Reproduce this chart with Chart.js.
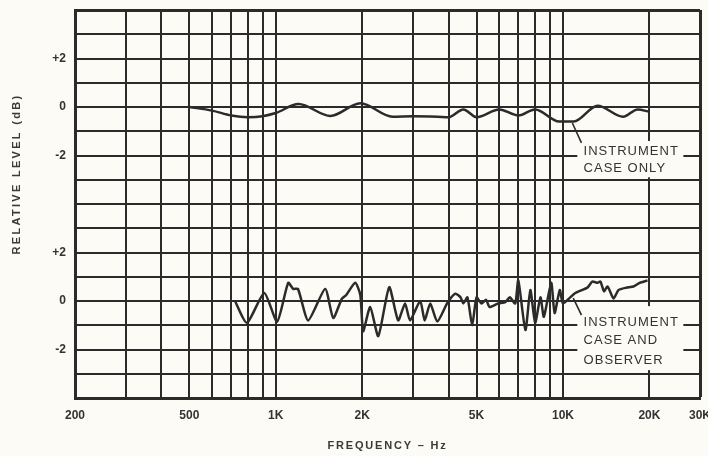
<!DOCTYPE html>
<html>
<head>
<meta charset="utf-8">
<script src="https://cdn.jsdelivr.net/npm/chart.js@4.4.1/dist/chart.umd.min.js"></script>
<style>
  html, body { margin: 0; padding: 0; background: #fcfbf6; }
  #wrap { width: 708px; height: 456px; }
</style>
</head>
<body>
<div id="wrap"><canvas id="grafico" width="708" height="456"></canvas></div>
<script>
// ---------- Dados ----------
// curva "INSTRUMENT CASE ONLY" (painel de cima)
const caseFreq  = [500, 600, 700, 800, 900, 1000, 1200, 1550, 1970, 2550, 3000, 3650, 4000, 4500, 5000, 6000, 7000, 8000, 9700, 10900, 13200, 16200, 18200, 20000];
const caseLevel = [0, -0.15, -0.35, -0.42, -0.38, -0.25, 0.12, -0.37, 0.15, -0.4, -0.38, -0.4, -0.42, -0.1, -0.42, -0.1, -0.35, -0.1, -0.6, -0.6, 0.05, -0.4, -0.1, -0.2];

// curva "INSTRUMENT CASE AND OBSERVER" (painel de baixo)
const observerFreq  = [721, 794, 912, 1011, 1105, 1150, 1195, 1297, 1486, 1585, 1700, 1760, 1891, 1970, 2015, 2132, 2275, 2483, 2668, 2820, 2935, 3184, 3300, 3450, 3650, 3950, 4220, 4400, 4500, 4650, 4830, 5000, 5200, 5400, 5550, 5950, 6300, 6530, 6820, 6990, 7400, 7700, 8000, 8350, 8580, 9100, 9350, 9750, 10000, 10600, 11040, 12160, 12650, 13200, 13500, 13900, 14300, 15000, 15600, 16600, 17600, 18500, 19700];
const observerLevel = [0, -0.9, 0.33, -0.85, 0.75, 0.5, 0.5, -0.8, 0.5, -0.7, 0.1, 0.25, 0.75, 0.25, -1.25, -0.25, -1.45, 0.57, -0.8, -0.1, -0.8, 0, -0.8, -0.1, -0.85, -0.1, 0.3, 0.15, -0.1, 0.15, -1.0, 0.15, -0.1, 0.05, -0.25, -0.1, -0.05, 0.15, -0.1, 0.85, -1.2, 0.45, -0.9, 0.15, -0.65, 0.75, -0.5, 0.45, -0.1, 0.15, 0.33, 0.55, 0.8, 0.75, 0.8, 0.4, 0.6, 0.1, 0.45, 0.55, 0.6, 0.75, 0.85];

// eixos
const freqGrid   = [200, 300, 400, 500, 600, 700, 800, 900, 1000, 2000, 3000, 4000, 5000, 6000, 7000, 8000, 9000, 10000, 20000, 30000];
const freqLabels = { 200: '200', 500: '500', 1000: '1K', 2000: '2K', 5000: '5K', 10000: '10K', 20000: '20K', 30000: '30K' };
const levelTicks = [2, 0, -2];
const levelTickLabels = ['+2', '0', '-2'];
const panelOffset = { top: 12, bottom: 4 }; // cada painel tem o 0 dB numa linha diferente

const INK = '#2b2b2b';
const PAPER = '#fcfbf6';
const FONT = "'Liberation Sans', Arial, sans-serif";

function pontos(freqs, levels, offset) {
  return freqs.map((f, i) => ({ x: f, y: levels[i] + offset }));
}

function rotuloNivel(v) {
  for (const off of [panelOffset.top, panelOffset.bottom]) {
    const i = levelTicks.indexOf(Math.round(v - off));
    if (i >= 0 && Math.abs(v - off - levelTicks[i]) < 1e-6) return levelTickLabels[i];
  }
  return '';
}

// ---------- Anotações (caixas, linhas e textos) ----------
const notas = [
  { offset: panelOffset.top, box: [11220, 26250, -1.4, -2.9], leader: [10780, -0.66, 11600, -1.48],
    text: ['INSTRUMENT', 'CASE ONLY'], textAt: [11800, -1.85, -2.52] },
  { offset: panelOffset.bottom, box: [11220, 26250, -0.21, -2.85], leader: [10860, 0.12, 11600, -0.58],
    text: ['INSTRUMENT', 'CASE AND', 'OBSERVER'], textAt: [11800, -0.87, -1.61, -2.43] }
];

function spaced(ctx, txt, x, y, spacing, align) {
  ctx.letterSpacing = spacing + 'px';
  ctx.textAlign = align || 'left';
  ctx.fillText(txt, x, y);
  ctx.letterSpacing = '0px';
}

const fundo = {
  id: 'fundo',
  beforeDraw(chart) {
    const c = chart.ctx;
    c.save();
    c.fillStyle = PAPER;
    c.fillRect(0, 0, chart.width, chart.height);
    c.restore();
  }
};

const anotacoes = {
  id: 'anotacoes',
  beforeDatasetsDraw(chart) {
    const c = chart.ctx, sx = chart.scales.x, sy = chart.scales.y;
    c.save();
    c.fillStyle = PAPER;
    notas.forEach(n => {
      const x1 = sx.getPixelForValue(n.box[0]), x2 = sx.getPixelForValue(n.box[1]);
      const y1 = sy.getPixelForValue(n.box[2] + n.offset), y2 = sy.getPixelForValue(n.box[3] + n.offset);
      c.fillRect(x1, y1, x2 - x1, y2 - y1);
    });
    c.restore();
  },
  afterDraw(chart) {
    const c = chart.ctx, sx = chart.scales.x, sy = chart.scales.y, ca = chart.chartArea;
    c.save();
    c.strokeStyle = INK;
    c.lineWidth = 1.6;
    c.fillStyle = '#333';
    c.font = '13px ' + FONT;
    c.textBaseline = 'middle';
    notas.forEach(n => {
      c.beginPath();
      c.moveTo(sx.getPixelForValue(n.leader[0]), sy.getPixelForValue(n.leader[1] + n.offset));
      c.lineTo(sx.getPixelForValue(n.leader[2]), sy.getPixelForValue(n.leader[3] + n.offset));
      c.stroke();
      const x = sx.getPixelForValue(n.textAt[0]);
      n.text.forEach((t, i) => spaced(c, t, x, sy.getPixelForValue(n.textAt[i + 1] + n.offset), 1));
    });

    // títulos dos eixos
    c.font = 'bold 11px ' + FONT;
    c.fillStyle = '#3a3a3a';
    spaced(c, 'FREQUENCY – Hz', (ca.left + ca.right) / 2, 446, 1.8, 'center');
    c.translate(17, 174);
    c.rotate(-Math.PI / 2);
    spaced(c, 'RELATIVE LEVEL (dB)', 0, 0, 2.3, 'center');
    c.restore();
  }
};

// ---------- Gráfico ----------
const ctx = document.getElementById('grafico').getContext('2d');
new Chart(ctx, {
  type: 'line',
  data: {
    datasets: [
      {
        label: 'INSTRUMENT CASE ONLY',
        data: pontos(caseFreq, caseLevel, panelOffset.top),
        borderColor: INK, borderWidth: 2.5, pointRadius: 0,
        tension: 0.4, cubicInterpolationMode: 'monotone'
      },
      {
        label: 'INSTRUMENT CASE AND OBSERVER',
        data: pontos(observerFreq, observerLevel, panelOffset.bottom),
        borderColor: INK, borderWidth: 2.5, pointRadius: 0,
        tension: 0.2
      }
    ]
  },
  options: {
    responsive: false,
    animation: false,
    layout: { padding: { top: 10, right: 8, left: 0, bottom: 0 } },
    plugins: { legend: { display: false }, tooltip: { enabled: false } },
    scales: {
      x: {
        type: 'logarithmic',
        min: 200, max: 30000,
        afterBuildTicks: s => { s.ticks = freqGrid.map(v => ({ value: v })); },
        afterFit: s => { s.height = 58; s.paddingLeft = 0; s.paddingRight = 0; },
        ticks: {
          autoSkip: false, maxRotation: 0, padding: 10,
          color: '#333', font: { family: FONT, size: 12, weight: 'bold' },
          callback: v => freqLabels[v] || ''
        },
        grid: {
          color: INK, drawTicks: false,
          lineWidth: c => (c.tick && c.tick.value === 30000 ? 3 : 2)
        },
        border: { color: INK, width: 3 }
      },
      y: {
        min: 0, max: 16,
        afterFit: s => { s.width = 75; s.paddingTop = 0; s.paddingBottom = 0; },
        ticks: {
          stepSize: 1, autoSkip: false, padding: 9,
          color: '#333', font: { family: FONT, size: 12, weight: 'bold' },
          callback: v => rotuloNivel(v)
        },
        grid: {
          color: INK, drawTicks: false,
          lineWidth: c => (c.tick && c.tick.value === 16 ? 3 : 2)
        },
        border: { color: INK, width: 3 }
      }
    }
  },
  plugins: [fundo, anotacoes]
});
</script>
</body>
</html>
